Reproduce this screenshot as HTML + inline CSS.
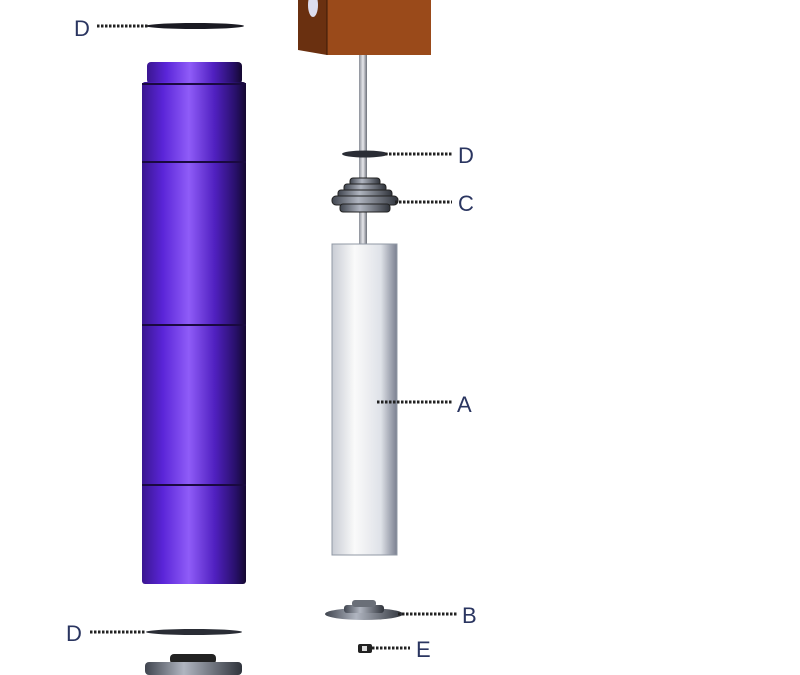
<!DOCTYPE html>
<html><head><style>body{margin:0;background:#fff}svg{display:block}text{font-family:"Liberation Sans",sans-serif;font-size:22px;fill:#2a3560}</style></head><body>
<svg width="800" height="675" viewBox="0 0 800 675">
<defs>
<linearGradient id="pu" x1="0" x2="1"><stop offset="0" stop-color="#3a1690"/><stop offset=".2" stop-color="#5a25d8"/><stop offset=".45" stop-color="#8f5cf8"/><stop offset=".7" stop-color="#5020c0"/><stop offset=".9" stop-color="#28106a"/><stop offset="1" stop-color="#140830"/></linearGradient>
<linearGradient id="wh" x1="0" x2="1"><stop offset="0" stop-color="#c8ccd4"/><stop offset=".35" stop-color="#fafafa"/><stop offset=".75" stop-color="#dfe2e8"/><stop offset="1" stop-color="#7a8090"/></linearGradient>
<linearGradient id="gr" x1="0" x2="1"><stop offset="0" stop-color="#40454f"/><stop offset=".4" stop-color="#b0b5c0"/><stop offset="1" stop-color="#30343c"/></linearGradient>
<linearGradient id="rod" x1="0" x2="1"><stop offset="0" stop-color="#8a8f98"/><stop offset=".5" stop-color="#e8e8ec"/><stop offset="1" stop-color="#6a6f78"/></linearGradient>
</defs>
<ellipse cx="195" cy="26" rx="49" ry="3" fill="#1a1a22"/>
<rect x="147" y="62" width="95" height="22" rx="4" fill="url(#pu)"/>
<rect x="142" y="82" width="104" height="502" rx="3" fill="url(#pu)"/>
<g stroke="#1a0a40" stroke-width="2"><line x1="142" y1="84" x2="246" y2="84"/><line x1="142" y1="162" x2="246" y2="162"/><line x1="142" y1="325" x2="246" y2="325"/><line x1="142" y1="485" x2="246" y2="485"/></g>
<ellipse cx="194" cy="632" rx="48" ry="3" fill="#2a2d35"/>
<rect x="170" y="654" width="46" height="10" rx="4" fill="#222"/>
<rect x="145" y="662" width="97" height="13" rx="4" fill="url(#gr)"/>
<rect x="327" y="0" width="104" height="55" fill="#9a4a1a"/>
<polygon points="298,0 327,0 327,55 298,50" fill="#6a3010"/>
<line x1="327" y1="0" x2="327" y2="55" stroke="#3a1a08"/>
<ellipse cx="313" cy="5" rx="5" ry="12" fill="#dde"/>
<rect x="359" y="55" width="8" height="190" fill="url(#rod)"/>
<ellipse cx="365" cy="154" rx="23" ry="3.5" fill="#2a2d35"/>
<g fill="url(#gr)" stroke="#222" stroke-width="1">
<rect x="350" y="178" width="30" height="8" rx="3"/><rect x="344" y="184" width="42" height="8" rx="3"/><rect x="338" y="190" width="54" height="8" rx="3"/><rect x="332" y="196" width="66" height="9" rx="4"/><rect x="340" y="204" width="50" height="8" rx="3"/>
</g>
<rect x="332" y="244" width="65" height="311" fill="url(#wh)" stroke="#9098a4"/>
<ellipse cx="364" cy="614" rx="39" ry="6" fill="url(#gr)"/>
<rect x="344" y="605" width="40" height="8" rx="3" fill="url(#gr)"/>
<rect x="352" y="600" width="24" height="7" rx="3" fill="#6a6f78"/>
<rect x="358" y="644" width="14" height="9" rx="2" fill="#222"/><rect x="362" y="646" width="5" height="5" fill="#ddd"/>
<g stroke="#222" stroke-width="3" stroke-dasharray="2.5,1.5">
<line x1="97" y1="26" x2="148" y2="26"/><line x1="385" y1="154" x2="452" y2="154"/><line x1="395" y1="202" x2="452" y2="202"/><line x1="377" y1="402" x2="452" y2="402"/><line x1="398" y1="614" x2="458" y2="614"/><line x1="372" y1="648" x2="410" y2="648"/><line x1="90" y1="632" x2="146" y2="632"/>
</g>
<text x="74" y="36">D</text><text x="458" y="163">D</text><text x="458" y="211">C</text><text x="457" y="412">A</text><text x="462" y="623">B</text><text x="416" y="657">E</text><text x="66" y="641">D</text>
</svg>
</body></html>
